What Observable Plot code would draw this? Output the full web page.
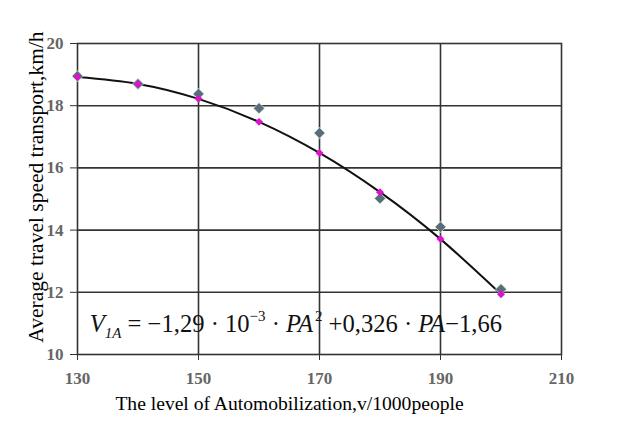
<!DOCTYPE html>
<html><head><meta charset="utf-8">
<script src="https://cdn.jsdelivr.net/npm/d3@7"></script>
<script src="https://cdn.jsdelivr.net/npm/@observablehq/plot@0.6"></script>
<style>
body{margin:0;background:#fff}
#chart{width:627px;height:421px}
#chart svg{font-family:"Liberation Serif","Times New Roman",serif}
</style>
</head><body><div id="chart"></div>
<script>
const levels = [130, 140, 150, 160, 170, 180, 190, 200];
const observed = [18.95, 18.7, 18.38, 17.92, 17.12, 15.02, 14.1, 12.1];
const fitted = [18.92, 18.70, 18.22, 17.48, 16.48, 15.22, 13.71, 11.94];
const xTicks = [130, 150, 170, 190, 210];
const yTicks = [10, 12, 14, 16, 18, 20];
const xGrid = [150, 170, 190];
const yGrid = [12, 14, 16, 18];
const yTitle = "Average travel speed transport,km/h";
const xTitle = "The level of Automobilization,v/1000people";

const obsData = levels.map((x, i) => ({x, y: observed[i]}));
const fitData = levels.map((x, i) => ({x, y: fitted[i]}));

const plot = Plot.plot({
  width: 627,
  height: 421,
  marginLeft: 77,
  marginRight: 66,
  marginTop: 43,
  marginBottom: 67,
  style: {fontFamily: "'Liberation Serif', 'Times New Roman', serif", background: "#fff"},
  x: {domain: [130, 210]},
  y: {domain: [10, 20]},
  marks: [
    Plot.gridX(xGrid, {stroke: "#333", strokeOpacity: 1, strokeWidth: 1.6}),
    Plot.gridY(yGrid, {stroke: "#333", strokeOpacity: 1, strokeWidth: 1.6}),
    Plot.frame({stroke: "#333", strokeWidth: 1.6}),
    Plot.axisX(xTicks, {tickSize: 6, tickFormat: () => "", stroke: "#333", label: null}),
    Plot.axisY(yTicks, {tickSize: 7, tickFormat: () => "", stroke: "#333", label: null}),
    Plot.text(xTicks, {x: d => d, frameAnchor: "bottom", dy: 29, text: d => String(d), fontSize: 17, fontWeight: "bold", fill: "#666"}),
    Plot.text(yTicks, {y: d => d, frameAnchor: "left", dx: -14, text: d => String(d), textAnchor: "end", fontSize: 17, fontWeight: "bold", fill: "#666"}),
    Plot.line(fitData, {x: "x", y: "y", curve: "natural", stroke: "#111", strokeWidth: 2}),
    Plot.dot(obsData, {x: "x", y: "y", symbol: "diamond2", r: 5, fill: "#5b6b80", stroke: "#c8f0c0", strokeWidth: 0.8}),
    Plot.dot(fitData, {x: "x", y: "y", symbol: "diamond2", r: 3.6, fill: "#e010d0"}),
    Plot.text([yTitle], {frameAnchor: "left", rotate: -90, dx: -41, dy: -12, fontSize: 21.5, fill: "#000", textAnchor: "middle"}),
    Plot.text([xTitle], {frameAnchor: "bottom", dx: -30, dy: 55, fontSize: 19.6, fill: "#000", textAnchor: "middle"})
  ]
});
document.getElementById("chart").appendChild(plot);

const svg = d3.select(plot);

// Regression equation, as real text with sub/superscripts
const xs = plot.scale("x"), ys = plot.scale("y");
const eq = svg.append("text")
  .attr("x", xs.apply(132.1))
  .attr("y", ys.apply(10.7))
  .attr("text-anchor", "start")
  .attr("font-family", "'Liberation Serif','Times New Roman',serif")
  .attr("font-size", 24.6)
  .style("font-size", "24.6px")
  .attr("fill", "#111");
const parts = [
  {t: "V", it: true},
  {t: "1A", it: true, sub: true},
  {t: " = \u22121,29 \u00b7 10"},
  {t: "\u22123", sup: true},
  {t: " \u00b7 "},
  {t: "PA", it: true},
  {t: "2", sup: true, dx: 2},
  {t: " +0,326 \u00b7 "},
  {t: "PA", it: true},
  {t: "\u22121,66"}
];
let prevShift = 0;
parts.forEach(p => {
  const shift = p.sub ? 6 : p.sup ? -11 : 0;
  const ts = eq.append("tspan").text(p.t);
  if (p.it) ts.attr("font-style", "italic");
  if (p.sub || p.sup) ts.style("font-size", "15px");
  if (p.dx) ts.attr("dx", p.dx);
  ts.attr("dy", shift - prevShift);
  prevShift = shift;
});
</script>
</body></html>
